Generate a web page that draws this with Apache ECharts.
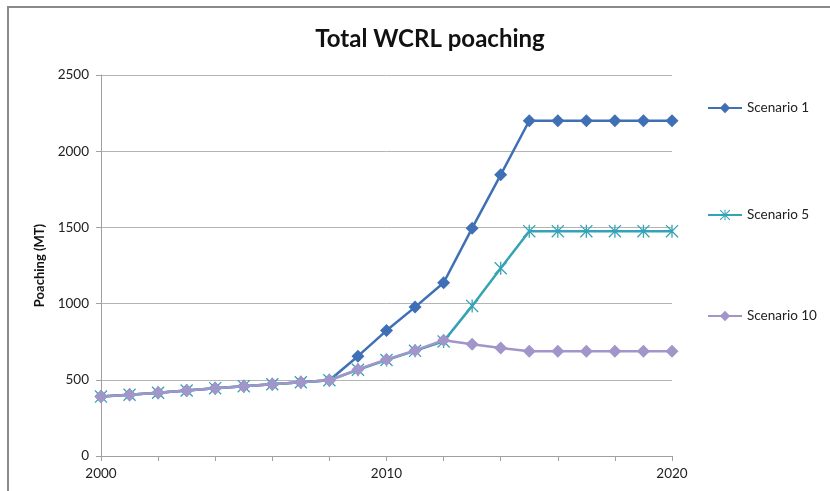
<!DOCTYPE html>
<html>
<head>
<meta charset="utf-8">
<script src="https://cdn.jsdelivr.net/npm/echarts@6/dist/echarts.min.js"></script>
<style>
  html, body { margin: 0; padding: 0; background: #fff; }
  #chart { width: 830px; height: 491px; }
</style>
</head>
<body>
<div id="chart"></div>
<script>
// Years on the x axis
const years = [2000, 2001, 2002, 2003, 2004, 2005, 2006, 2007, 2008, 2009, 2010,
               2011, 2012, 2013, 2014, 2015, 2016, 2017, 2018, 2019, 2020];

// Poaching (MT) per scenario
const scenario1 = [390, 402, 415, 430, 445, 458, 471, 484, 497, 655, 823,
                   977, 1137, 1495, 1845, 2200, 2200, 2200, 2200, 2200, 2200];
const scenario5 = [390, 402, 415, 430, 445, 458, 471, 484, 497, 566, 630,
                   690, 752, 985, 1232, 1475, 1475, 1475, 1475, 1475, 1475];
const scenario10 = [390, 402, 415, 430, 445, 458, 471, 484, 497, 568, 633,
                    693, 760, 733, 708, 688, 688, 688, 688, 688, 688];

const seriesNames = ['Scenario 1', 'Scenario 5', 'Scenario 10'];
const yTicks = { min: 0, max: 2500, step: 500 };
const xTicks = { min: 2000, max: 2020, step: 2, labelEvery: 10 };

const pair = vals => years.map((y, i) => [y, vals[i]]);

// asterisk marker: vertical bar plus two diagonals
const starPath = 'path://M4.5 0L5.5 0L5.5 10L4.5 10Z' +
                 'M0 0.7L0.7 0L10 9.3L9.3 10Z' +
                 'M9.3 0L10 0.7L0.7 10L0 9.3Z';

const font = 'Lato, "Open Sans", sans-serif';

const chart = echarts.init(document.getElementById('chart'));
chart.setOption({
  animation: false,
  backgroundColor: '#fff',
  textStyle: { fontFamily: font },
  title: {
    text: 'Total WCRL poaching',
    left: 425, top: 22, textAlign: 'center',
    textStyle: { fontFamily: font, fontSize: 24, fontWeight: 'bold', color: '#111' }
  },
  graphic: [
    { type: 'line', shape: { x1: 7, y1: 7, x2: 830, y2: 7 },
      style: { stroke: '#8a8a8a', lineWidth: 2 } },
    { type: 'line', shape: { x1: 8, y1: 7, x2: 8, y2: 491 },
      style: { stroke: '#8a8a8a', lineWidth: 2 } }
  ],
  legend: [
    { data: [seriesNames[0]], orient: 'vertical', left: 702, top: 96 },
    { data: [seriesNames[1]], orient: 'vertical', left: 702, top: 203 },
    { data: [seriesNames[2]], orient: 'vertical', left: 702, top: 304 }
  ].map(l => Object.assign(l, {
    itemWidth: 34, itemHeight: 13,
    textStyle: { fontFamily: font, fontSize: 13.5, color: '#222' }
  })),
  grid: { left: 101, right: 158, top: 75, bottom: 35 },
  xAxis: {
    type: 'value',
    min: xTicks.min, max: xTicks.max, interval: xTicks.step,
    axisLine: { lineStyle: { color: '#a0a0a0', width: 1 } },
    axisTick: { show: true, length: 5, lineStyle: { color: '#a0a0a0' } },
    axisLabel: {
      margin: 11, color: '#222', fontSize: 13.5, fontFamily: font,
      formatter: v => (v % xTicks.labelEvery === 0 ? String(v) : '')
    },
    splitLine: { show: false }
  },
  yAxis: {
    type: 'value',
    min: yTicks.min, max: yTicks.max, interval: yTicks.step,
    name: 'Poaching (MT)', nameLocation: 'middle', nameGap: 54,
    nameTextStyle: { fontFamily: font, fontSize: 13, fontWeight: 'bold', color: '#111' },
    axisLine: { show: true, lineStyle: { color: '#a0a0a0', width: 1 } },
    axisTick: { show: true, length: 5, lineStyle: { color: '#a0a0a0' } },
    axisLabel: {
      margin: 12, color: '#222', fontSize: 13.5, fontFamily: font,
      formatter: v => String(v)
    },
    splitLine: { lineStyle: { color: '#b4b4b4', width: 1 } }
  },
  series: [
    {
      name: seriesNames[0], type: 'line', data: pair(scenario1),
      symbol: 'diamond', symbolSize: 13,
      lineStyle: { color: '#3f70b5', width: 2.5 },
      itemStyle: { color: '#3f70b5' }, z: 3
    },
    {
      name: seriesNames[1], type: 'line', data: pair(scenario5),
      symbol: starPath, symbolSize: 13,
      lineStyle: { color: '#35a3b5', width: 2.5 },
      itemStyle: { color: '#35a3b5' }, z: 4
    },
    {
      name: seriesNames[2], type: 'line', data: pair(scenario10),
      symbol: 'diamond', symbolSize: 13,
      lineStyle: { color: '#a195c9', width: 2.5 },
      itemStyle: { color: '#a195c9' }, z: 5
    }
  ]
});
</script>
</body>
</html>
